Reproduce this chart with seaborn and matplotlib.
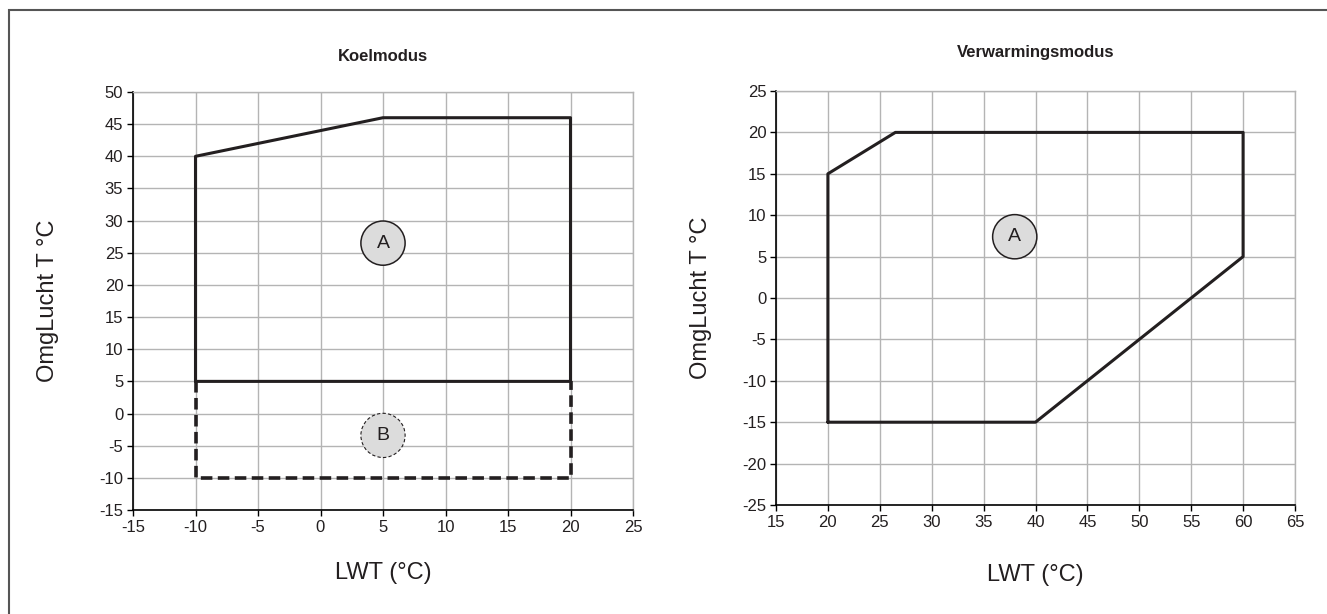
import pandas as pd
import seaborn as sns
import matplotlib.pyplot as plt
from matplotlib.patches import Rectangle

# Koelmodus envelope (A) and extended range (B)
koel_a_lwt = [-10, -10, 5, 20, 20, -10]
koel_a_amb = [5, 40, 46, 46, 5, 5]
koel_b_lwt = [-10, -10, 20, 20]
koel_b_amb = [5, -10, -10, 5]

# Verwarmingsmodus envelope (A)
verw_lwt = [20, 20, 26.5, 60, 60, 40, 20]
verw_amb = [-15, 15, 20, 20, 5, -15, -15]

koel_xticks = list(range(-15, 30, 5))
koel_yticks = list(range(-15, 55, 5))
verw_xticks = list(range(15, 70, 5))
verw_yticks = list(range(-25, 30, 5))

sns.set_theme(style="white")
plt.rcParams['font.family'] = ['Liberation Sans', 'DejaVu Sans']
plt.rcParams['axes.unicode_minus'] = False

line_col = '#231f20'
grid_col = '#b4b4b4'
text_col = '#231f20'

fig = plt.figure(figsize=(13.27, 6.14), dpi=100)
fig.patches.append(Rectangle((9 / 1327, -0.1), 1.2, 1.1 - 10 / 614, transform=fig.transFigure,
                             fill=False, edgecolor='#555555', linewidth=1.5))

ax1 = fig.add_axes([133 / 1327, 1 - 510 / 614, 500 / 1327, 418 / 614])
ax2 = fig.add_axes([776 / 1327, 1 - 505 / 614, 519 / 1327, 414 / 614])


def style_axes(ax, xticks, yticks, title, ylabelpad, xlabelpad, titlepad):
    ax.set_xlim(xticks[0], xticks[-1])
    ax.set_ylim(yticks[0], yticks[-1])
    ax.set_xticks(xticks)
    ax.set_yticks(yticks)
    ax.grid(True, color=grid_col, linewidth=1)
    for side in ['top', 'right']:
        ax.spines[side].set_color(grid_col)
        ax.spines[side].set_linewidth(1)
    for side in ['left', 'bottom']:
        ax.spines[side].set_color('black')
        ax.spines[side].set_linewidth(1.2)
    ax.tick_params(axis='both', direction='out', length=4, width=1, color='black',
                   labelsize=12, labelcolor=text_col, pad=3,
                   left=True, bottom=True)
    ax.set_xlabel('LWT (°C)', fontsize=17, labelpad=xlabelpad, color=text_col)
    ax.set_ylabel('OmgLucht T °C', fontsize=17, labelpad=ylabelpad, color=text_col)
    ax.set_title(title, fontsize=12, fontweight='bold', pad=titlepad, color=text_col,
                 family=['Liberation Sans Narrow', 'Liberation Sans'])


def circle_label(ax, x, y, txt, dashed=False):
    ax.text(x, y, txt, ha='center', va='center', fontsize=14, color=text_col, zorder=5,
            bbox=dict(boxstyle='circle,pad=0.7', facecolor='#dcdcdc', edgecolor=line_col,
                      linewidth=0.8 if dashed else 1.1,
                      linestyle=(0, (3, 2)) if dashed else '-'))


koel_a = pd.DataFrame({'lwt': koel_a_lwt, 'amb': koel_a_amb})
koel_b = pd.DataFrame({'lwt': koel_b_lwt, 'amb': koel_b_amb})
verw = pd.DataFrame({'lwt': verw_lwt, 'amb': verw_amb})

sns.lineplot(data=koel_b, x='lwt', y='amb', sort=False, estimator=None, ax=ax1,
             color=line_col, linewidth=2.6, linestyle=(0, (3.2, 1.5)))
sns.lineplot(data=koel_a, x='lwt', y='amb', sort=False, estimator=None, ax=ax1,
             color=line_col, linewidth=2.2)
sns.lineplot(data=verw, x='lwt', y='amb', sort=False, estimator=None, ax=ax2,
             color=line_col, linewidth=2.2)

style_axes(ax1, koel_xticks, koel_yticks, 'Koelmodus', ylabelpad=29, xlabelpad=19.5, titlepad=22.5)
style_axes(ax2, verw_xticks, verw_yticks, 'Verwarmingsmodus', ylabelpad=21.5, xlabelpad=25, titlepad=24.5)

circle_label(ax1, 5, 26.5, 'A')
circle_label(ax1, 5, -3.4, 'B', dashed=True)
circle_label(ax2, 38, 7.4, 'A')

fig.savefig('out.png', dpi=100)
